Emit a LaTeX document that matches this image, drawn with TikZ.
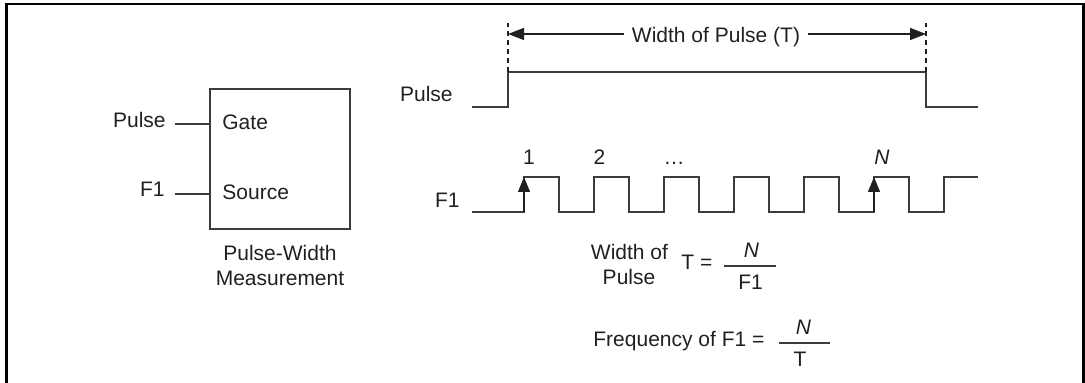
\documentclass[tikz,border=0pt]{standalone}
\usepackage{fontspec}
\setmainfont{Liberation Sans}
\usetikzlibrary{arrows.meta}
\definecolor{ink}{RGB}{35,31,32}
\definecolor{wire}{RGB}{60,60,60}
\tikzset{
  txt/.style={inner sep=0pt, text=ink, font=\fontsize{10.5}{12}\selectfont},
  wave/.style={draw=wire, line width=0.65pt, line join=miter},
  dashmark/.style={draw=ink, line width=0.65pt, dash pattern=on 2.5pt off 2pt},
  dimarrow/.style={draw=ink, line width=0.65pt, -{Triangle[length=8pt,width=6pt]}},
  edgearrow/.style={draw=ink, line width=0.65pt, -{Triangle[length=7.5pt,width=6pt]}},
  counterbox/.style={draw=wire, line width=0.65pt, inner sep=0pt, minimum width=70pt, minimum height=70pt}
}
\begin{document}
\begin{tikzpicture}[x=0.5pt,y=-0.5pt]
\useasboundingbox (0,0) rectangle (1085,383);
% frame
\draw[line width=1.4pt, line cap=butt] (6.5,383) -- (6.5,4) -- (1083.5,4) -- (1083.5,383);

% ---------- counter block ----------
\node[counterbox] (cnt) at (280,159) {};
\node[txt, anchor=base west] (gate) at (222,130) {Gate};
\node[txt, anchor=base west] (src) at (222,200) {Source};
\node[txt, anchor=base east] (inpulse) at (166,128) {Pulse};
\node[txt, anchor=base east] (inf1) at (165,197) {F1};
\coordinate (pin1) at (175,124);
\coordinate (pin2) at (175,194);
\draw[wave] (pin1) -- (cnt.west |- pin1);
\draw[wave] (pin2) -- (cnt.west |- pin2);
\node[txt, anchor=base] (cap1) at (280,261) {Pulse-Width};
\node[txt, anchor=base] (cap2) at (280,286) {Measurement};

% ---------- Pulse waveform ----------
\node[txt, anchor=base east] (wpulse) at (453,102) {Pulse};
\draw[wave] (472,107) -- (508,107) -- (508,72) -- (926,72) -- (926,107) -- (978,107);
\draw[dashmark] (508,72) -- (508,23);
\draw[dashmark] (926,72) -- (926,23);
\coordinate (dl) at (508,34);
\coordinate (dr) at (926,34);
\node[txt, anchor=base] (wtxt) at (716,43) {Width of Pulse (T)};
\draw[dimarrow] ([xshift=-4pt]wtxt.west |- dl) -- (dl);
\draw[dimarrow] ([xshift=4pt]wtxt.east |- dr) -- (dr);

% ---------- F1 waveform ----------
\node[txt, anchor=base east] (wf1) at (460,208) {F1};
\draw[wave] (472,212) -- (524,212)
  -- (524,177) -- (559,177) -- (559,212) -- (594,212)
  -- (594,177) -- (629,177) -- (629,212) -- (664,212)
  -- (664,177) -- (699,177) -- (699,212) -- (734,212)
  -- (734,177) -- (769,177) -- (769,212) -- (804,212)
  -- (804,177) -- (839,177) -- (839,212) -- (874,212)
  -- (874,177) -- (909,177) -- (909,212) -- (944,212)
  -- (944,177) -- (978,177);
\coordinate (e1a) at (524,212);
\coordinate (e1b) at (524,177);
\coordinate (eNa) at (874,212);
\coordinate (eNb) at (874,177);
\draw[edgearrow] (e1a) -- (e1b);
\draw[edgearrow] (eNa) -- (eNb);
\node[txt, anchor=base] (n1) at (529,165) {1};
\node[txt, anchor=base] (n2) at (599.5,165) {2};
\node[txt, anchor=base] (ndots) at (674,165) {…};
\node[txt, anchor=base] (nN) at (882,165) {\itshape N};

% ---------- formulas ----------
\node[txt, anchor=base] (wof) at (629.5,260) {Width of};
\node[txt, anchor=base] (wpl) at (629,285) {Pulse};
\node[txt, anchor=base west] (teq) at (681,270) {T =};
\coordinate (b1l) at (724,266);
\coordinate (b1r) at (776,266);
\draw[wave] (b1l) -- (b1r);
\node[txt, anchor=base] (num1) at (751.5,258) {\itshape N};
\node[txt, anchor=base] (den1) at (750.5,290) {F1};

\node[txt, anchor=base west] (freq) at (593,347) {Frequency of F1 =};
\coordinate (b2l) at (779,343);
\coordinate (b2r) at (830,343);
\draw[wave] (b2l) -- (b2r);
\node[txt, anchor=base] (num2) at (803.5,335) {\itshape N};
\node[txt, anchor=base] (den2) at (800,367) {T};
\end{tikzpicture}
\end{document}
